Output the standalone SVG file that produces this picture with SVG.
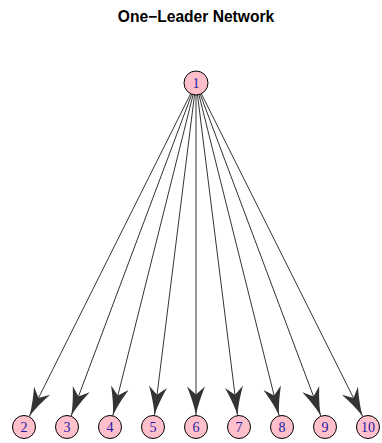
<svg xmlns="http://www.w3.org/2000/svg" width="382" height="443" viewBox="0 0 382 443">
<style>
.edge{stroke:#333;stroke-width:1;fill:none;marker-end:url(#ah)}
.node circle{fill:#FFC0CB;stroke:#000;stroke-width:1}
.node text{font-family:"Liberation Serif",serif;font-size:14px;fill:#1a1aa6;text-anchor:middle}
.title{font-family:"Liberation Sans",Arial,sans-serif;font-weight:bold;font-size:15.6px;text-anchor:middle;fill:#000}
</style>
<defs>
<marker id="ah" markerUnits="userSpaceOnUse" orient="auto" viewBox="-32 -12 34 24" refX="0" refY="0" markerWidth="34" markerHeight="24">
<path d="M0,0 C-6,-1 -14,-3 -29,-9 L-21,0 L-29,9 C-14,3 -6,1 0,0 Z" fill="#333"/>
</marker>
</defs>
<rect width="382" height="443" fill="#fff"/>
<text class="title" x="196" y="22">One−Leader Network</text>
<g id="edges">
<line class="edge" x1="190.63" y1="93.73" x2="29.14" y2="416.71"/>
<line class="edge" x1="191.79" y1="94.24" x2="71.04" y2="416.23"/>
<line class="edge" x1="193.09" y1="94.64" x2="112.79" y2="415.84"/>
<line class="edge" x1="194.51" y1="94.91" x2="154.43" y2="415.59"/>
<line class="edge" x1="196" y1="95" x2="196" y2="415.5"/>
<line class="edge" x1="197.49" y1="94.91" x2="237.57" y2="415.59"/>
<line class="edge" x1="198.91" y1="94.64" x2="279.21" y2="415.84"/>
<line class="edge" x1="200.21" y1="94.24" x2="320.96" y2="416.23"/>
<line class="edge" x1="201.37" y1="93.73" x2="362.86" y2="416.71"/>
</g>
<g id="n1" class="node"><circle cx="196" cy="83" r="12"/><text x="196" y="88">1</text></g>
<g id="n2" class="node"><circle cx="24" cy="427" r="11.5"/><text x="24" y="432">2</text></g>
<g id="n3" class="node"><circle cx="67" cy="427" r="11.5"/><text x="67" y="432">3</text></g>
<g id="n4" class="node"><circle cx="110" cy="427" r="11.5"/><text x="110" y="432">4</text></g>
<g id="n5" class="node"><circle cx="153" cy="427" r="11.5"/><text x="153" y="432">5</text></g>
<g id="n6" class="node"><circle cx="196" cy="427" r="11.5"/><text x="196" y="432">6</text></g>
<g id="n7" class="node"><circle cx="239" cy="427" r="11.5"/><text x="239" y="432">7</text></g>
<g id="n8" class="node"><circle cx="282" cy="427" r="11.5"/><text x="282" y="432">8</text></g>
<g id="n9" class="node"><circle cx="325" cy="427" r="11.5"/><text x="325" y="432">9</text></g>
<g id="n10" class="node"><circle cx="368" cy="427" r="11.5"/><text x="368" y="432">10</text></g>
</svg>
